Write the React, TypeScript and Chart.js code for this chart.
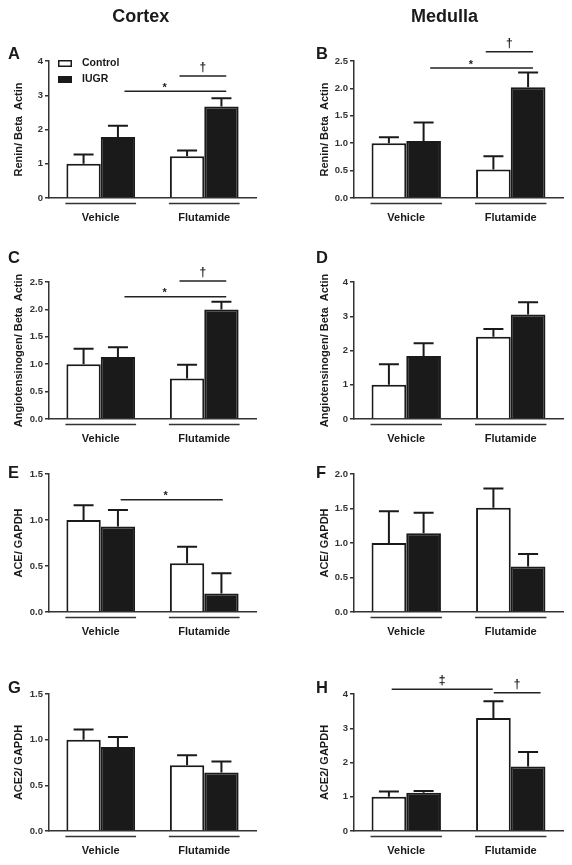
import React, { useEffect, useRef } from "react";
import { Chart, registerables } from "chart.js";

Chart.register(...registerables);

const FONT = '"Liberation Sans", Arial, Helvetica, sans-serif';
const INK = "#1a1a1a";

// ---------- categories / series ----------
const groups = ["Vehicle", "Flutamide"];
const seriesNames = ["Control", "IUGR"];
const columnTitles = ["Cortex", "Medulla"];

// ---------- tick values ----------
const ticks0to4 = [0, 1, 2, 3, 4];
const ticks0to25 = [0, 0.5, 1, 1.5, 2, 2.5];
const ticks0to15 = [0, 0.5, 1, 1.5];
const ticks0to20 = [0, 0.5, 1, 1.5, 2];

// ---------- A: Cortex renin ----------
const reninCortexControl = [1.0, 1.22];
const reninCortexControlSem = [0.27, 0.17];
const reninCortexIugr = [1.78, 2.67];
const reninCortexIugrSem = [0.33, 0.24];

// ---------- B: Medulla renin ----------
const reninMedullaControl = [1.0, 0.52];
const reninMedullaControlSem = [0.11, 0.24];
const reninMedullaIugr = [1.04, 2.02];
const reninMedullaIugrSem = [0.34, 0.27];

// ---------- C: Cortex angiotensinogen ----------
const agtCortexControl = [1.0, 0.74];
const agtCortexControlSem = [0.28, 0.25];
const agtCortexIugr = [1.13, 2.0];
const agtCortexIugrSem = [0.18, 0.14];

// ---------- D: Medulla angiotensinogen ----------
const agtMedullaControl = [1.0, 2.4];
const agtMedullaControlSem = [0.6, 0.23];
const agtMedullaIugr = [1.84, 3.05];
const agtMedullaIugrSem = [0.37, 0.36];

// ---------- E: Cortex ACE ----------
const aceCortexControl = [1.0, 0.53];
const aceCortexControlSem = [0.16, 0.18];
const aceCortexIugr = [0.93, 0.2];
const aceCortexIugrSem = [0.18, 0.22];

// ---------- F: Medulla ACE ----------
const aceMedullaControl = [1.0, 1.51];
const aceMedullaControlSem = [0.46, 0.28];
const aceMedullaIugr = [1.14, 0.66];
const aceMedullaIugrSem = [0.3, 0.18];

// ---------- G: Cortex ACE2 ----------
const ace2CortexControl = [1.0, 0.72];
const ace2CortexControlSem = [0.11, 0.11];
const ace2CortexIugr = [0.92, 0.64];
const ace2CortexIugrSem = [0.11, 0.12];

// ---------- H: Medulla ACE2 ----------
const ace2MedullaControl = [1.0, 3.3];
const ace2MedullaControlSem = [0.15, 0.49];
const ace2MedullaIugr = [1.12, 1.88];
const ace2MedullaIugrSem = [0.05, 0.43];

// ---------- significance levels (y value of the bracket line) ----------
const sigLevelsA = [3.56, 3.12];
const sigLevelsB = [2.67, 2.37];
const sigLevelsC = [2.52, 2.23];
const sigLevelsE = [1.22];
const sigLevelsH = [4.14, 4.04];

type Sig = { symbol: string; level: number; from: [number, number]; to: [number, number]; at?: [number, number] };

const daggerAndStar = (levels: number[]): Sig[] => [
  { symbol: "†", level: levels[0], from: [1, -0.72], to: [1, 0.64] },
  { symbol: "*", level: levels[1], from: [0, 0.69], to: [1, 0.64], at: [1, -1.15] },
];

// ---------- layout ----------
const COLS = [
  { x: 0, w: 286, axisLeft: 49, plotRight: 256, titleX: 19, letterX: 8 },
  { x: 286, w: 286, axisLeft: 68, plotRight: 277, titleX: 39, letterX: 316 },
];
const ROWS = [
  { top: 61, bottom: 198, letterY: 52.5 },
  { top: 282, bottom: 419, letterY: 257 },
  { top: 474, bottom: 612, letterY: 472 },
  { top: 694, bottom: 831, letterY: 687 },
];
const TOP_PAD = 50;
const X_AXIS_H = 34;

type PanelDef = {
  letter: string;
  col: number;
  row: number;
  yTitle: string;
  control: number[];
  controlSem: number[];
  iugr: number[];
  iugrSem: number[];
  yTicks: number[];
  decimals: number;
  sig: Sig[];
  legend?: boolean;
};

const panels: PanelDef[] = [
  { letter: "A", col: 0, row: 0, yTitle: "Renin/ Beta  Actin", control: reninCortexControl, controlSem: reninCortexControlSem, iugr: reninCortexIugr, iugrSem: reninCortexIugrSem, yTicks: ticks0to4, decimals: 0, sig: daggerAndStar(sigLevelsA), legend: true },
  { letter: "B", col: 1, row: 0, yTitle: "Renin/ Beta  Actin", control: reninMedullaControl, controlSem: reninMedullaControlSem, iugr: reninMedullaIugr, iugrSem: reninMedullaIugrSem, yTicks: ticks0to25, decimals: 1, sig: daggerAndStar(sigLevelsB) },
  { letter: "C", col: 0, row: 1, yTitle: "Angiotensinogen/ Beta  Actin", control: agtCortexControl, controlSem: agtCortexControlSem, iugr: agtCortexIugr, iugrSem: agtCortexIugrSem, yTicks: ticks0to25, decimals: 1, sig: daggerAndStar(sigLevelsC) },
  { letter: "D", col: 1, row: 1, yTitle: "Angiotensinogen/ Beta  Actin", control: agtMedullaControl, controlSem: agtMedullaControlSem, iugr: agtMedullaIugr, iugrSem: agtMedullaIugrSem, yTicks: ticks0to4, decimals: 0, sig: [] },
  { letter: "E", col: 0, row: 2, yTitle: "ACE/ GAPDH", control: aceCortexControl, controlSem: aceCortexControlSem, iugr: aceCortexIugr, iugrSem: aceCortexIugrSem, yTicks: ticks0to15, decimals: 1, sig: [{ symbol: "*", level: sigLevelsE[0], from: [0, 0.58], to: [1, 0.54], at: [1, -1.12] }] },
  { letter: "F", col: 1, row: 2, yTitle: "ACE/ GAPDH", control: aceMedullaControl, controlSem: aceMedullaControlSem, iugr: aceMedullaIugr, iugrSem: aceMedullaIugrSem, yTicks: ticks0to20, decimals: 1, sig: [] },
  { letter: "G", col: 0, row: 3, yTitle: "ACE2/ GAPDH", control: ace2CortexControl, controlSem: ace2CortexControlSem, iugr: ace2CortexIugr, iugrSem: ace2CortexIugrSem, yTicks: ticks0to15, decimals: 1, sig: [] },
  { letter: "H", col: 1, row: 3, yTitle: "ACE2/ GAPDH", control: ace2MedullaControl, controlSem: ace2MedullaControlSem, iugr: ace2MedullaIugr, iugrSem: ace2MedullaIugrSem, yTicks: ticks0to4, decimals: 0, sig: [
    { symbol: "‡", level: sigLevelsH[0], from: [0, -0.42], to: [1, -0.52] },
    { symbol: "†", level: sigLevelsH[1], from: [1, -0.49], to: [1, 0.86] },
  ] },
];

function PanelChart({ p }: { p: PanelDef }) {
  const ref = useRef<HTMLCanvasElement | null>(null);
  const col = COLS[p.col];
  const row = ROWS[p.row];
  const plotH = row.bottom - row.top;
  const canvasH = TOP_PAD + plotH + X_AXIS_H;
  const canvasTop = row.top - TOP_PAD;

  useEffect(() => {
    if (!ref.current) return;
    const sems = [p.controlSem, p.iugrSem];
    const overlay = {
      id: "overlay" + p.letter,
      afterDatasetsDraw(chart: any) {
        const ctx = chart.ctx;
        const ys = chart.scales.y;
        ctx.save();
        ctx.strokeStyle = INK;
        ctx.lineWidth = 2;
        sems.forEach((sem, di) => {
          const meta = chart.getDatasetMeta(di);
          meta.data.forEach((bar: any, i: number) => {
            const v = chart.data.datasets[di].data[i] as number;
            const yt = ys.getPixelForValue(v + sem[i]);
            ctx.beginPath();
            ctx.moveTo(bar.x, bar.y);
            ctx.lineTo(bar.x, yt);
            ctx.moveTo(bar.x - 10, yt);
            ctx.lineTo(bar.x + 10, yt);
            ctx.stroke();
          });
        });
        ctx.restore();
      },
      afterDraw(chart: any) {
        const ctx = chart.ctx;
        const area = chart.chartArea;
        const xs = chart.scales.x;
        const ys = chart.scales.y;
        const m0 = chart.getDatasetMeta(0);
        const m1 = chart.getDatasetMeta(1);
        const bw = m0.data[0].width;
        ctx.save();
        // group underlines
        ctx.strokeStyle = "#333";
        ctx.lineWidth = 1.5;
        groups.forEach((_, gi) => {
          const l = m0.data[gi].x - bw / 2 - 1;
          const r = m1.data[gi].x + bw / 2 + 1;
          const yy = area.bottom + 5.5;
          ctx.beginPath();
          ctx.moveTo(l, yy);
          ctx.lineTo(r, yy);
          ctx.stroke();
        });
        // y title
        ctx.fillStyle = INK;
        ctx.font = `bold 11px ${FONT}`;
        ctx.textAlign = "center";
        ctx.textBaseline = "middle";
        ctx.save();
        ctx.translate(col.titleX, (area.top + area.bottom) / 2);
        ctx.rotate(-Math.PI / 2);
        ctx.fillText(p.yTitle, 0, 0);
        ctx.restore();
        // significance brackets
        const px = (pos: [number, number]) => xs.getPixelForValue(pos[0]) + pos[1] * bw;
        p.sig.forEach((s) => {
          const x1 = px(s.from);
          const x2 = px(s.to);
          const yy = ys.getPixelForValue(s.level);
          ctx.strokeStyle = "#222";
          ctx.lineWidth = 1.5;
          ctx.beginPath();
          ctx.moveTo(x1, yy);
          ctx.lineTo(x2, yy);
          ctx.stroke();
          const lx = s.at ? px(s.at) : (x1 + x2) / 2;
          ctx.fillStyle = INK;
          ctx.textAlign = "center";
          ctx.textBaseline = "alphabetic";
          if (s.symbol === "*") {
            ctx.font = `bold 11px ${FONT}`;
            ctx.fillText(s.symbol, lx, yy - 0.5);
          } else {
            ctx.font = `bold 12px ${FONT}`;
            ctx.fillText(s.symbol, lx, yy - 5);
          }
        });
        // legend
        if (p.legend) {
          const bx = area.left + 9;
          [0, 1].forEach((k) => {
            const by = area.top - 1 + k * 16;
            if (k === 0) {
              ctx.fillStyle = "#fff";
              ctx.fillRect(bx, by, 14, 7);
              ctx.strokeStyle = INK;
              ctx.lineWidth = 1.5;
              ctx.strokeRect(bx + 0.75, by + 0.75, 12.5, 5.5);
            } else {
              ctx.fillStyle = INK;
              ctx.fillRect(bx, by, 14, 7);
            }
            ctx.fillStyle = INK;
            ctx.font = `bold 10.5px ${FONT}`;
            ctx.textAlign = "left";
            ctx.textBaseline = "middle";
            ctx.fillText(chart.data.datasets[k].label, bx + 24, by + 3.5);
          });
        }
        ctx.restore();
      },
    };

    const chart = new Chart(ref.current, {
      type: "bar",
      data: {
        labels: groups,
        datasets: [
          { label: seriesNames[0], data: p.control, backgroundColor: "#ffffff", borderColor: INK, borderWidth: 2, borderSkipped: "start", categoryPercentage: 0.664, barPercentage: 1 },
          { label: seriesNames[1], data: p.iugr, backgroundColor: INK, borderColor: INK, borderWidth: 2, borderSkipped: "start", categoryPercentage: 0.664, barPercentage: 1 },
        ],
      },
      options: {
        responsive: false,
        animation: false,
        devicePixelRatio: 1,
        layout: { padding: { top: TOP_PAD, left: 0, right: col.w - col.plotRight, bottom: 0 } },
        plugins: { legend: { display: false }, tooltip: { enabled: false }, title: { display: false } },
        scales: {
          x: {
            type: "category",
            offset: true,
            grid: { display: false, drawTicks: false },
            border: { display: true, color: "#333", width: 1.5 },
            ticks: { padding: 13.5, color: INK, maxRotation: 0, font: { family: FONT, size: 11, weight: "bold" } },
            afterFit: (s: any) => { s.height = X_AXIS_H; },
          },
          y: {
            min: 0,
            max: p.yTicks[p.yTicks.length - 1],
            grid: { display: true, drawOnChartArea: false, drawTicks: true, tickLength: 4, color: "#333", lineWidth: 1.5 },
            border: { display: true, color: "#333", width: 1.5 },
            ticks: {
              padding: 2,
              color: "#333",
              font: { family: FONT, size: 9.5, weight: "bold" },
              callback: (v: any) => Number(v).toFixed(p.decimals),
            },
            afterBuildTicks: (s: any) => { s.ticks = p.yTicks.map((v) => ({ value: v })); },
            afterFit: (s: any) => { s.width = col.axisLeft; },
          },
        },
      } as any,
      plugins: [overlay],
    });
    return () => chart.destroy();
  }, []);

  return (
    <canvas
      ref={ref}
      width={col.w}
      height={canvasH}
      style={{ position: "absolute", left: col.x, top: canvasTop, width: col.w, height: canvasH }}
    />
  );
}

export default function App() {
  return (
    <div style={{ position: "absolute", left: 0, top: 0, width: 572, height: 865, background: "#fff", overflow: "hidden", fontFamily: FONT, color: INK }}>
      {panels.map((p) => (
        <PanelChart key={p.letter} p={p} />
      ))}
      {columnTitles.map((t, i) => (
        <div key={t} style={{ position: "absolute", left: i === 0 ? 140.8 : 444.5, top: 16, transform: "translate(-50%, -50%)", font: `bold 18px ${FONT}`, lineHeight: 1, whiteSpace: "nowrap" }}>
          {t}
        </div>
      ))}
      {panels.map((p) => (
        <div key={"L" + p.letter} style={{ position: "absolute", left: COLS[p.col].letterX, top: ROWS[p.row].letterY, transform: "translateY(-50%)", font: `bold 16.5px ${FONT}`, lineHeight: 1 }}>
          {p.letter}
        </div>
      ))}
    </div>
  );
}
